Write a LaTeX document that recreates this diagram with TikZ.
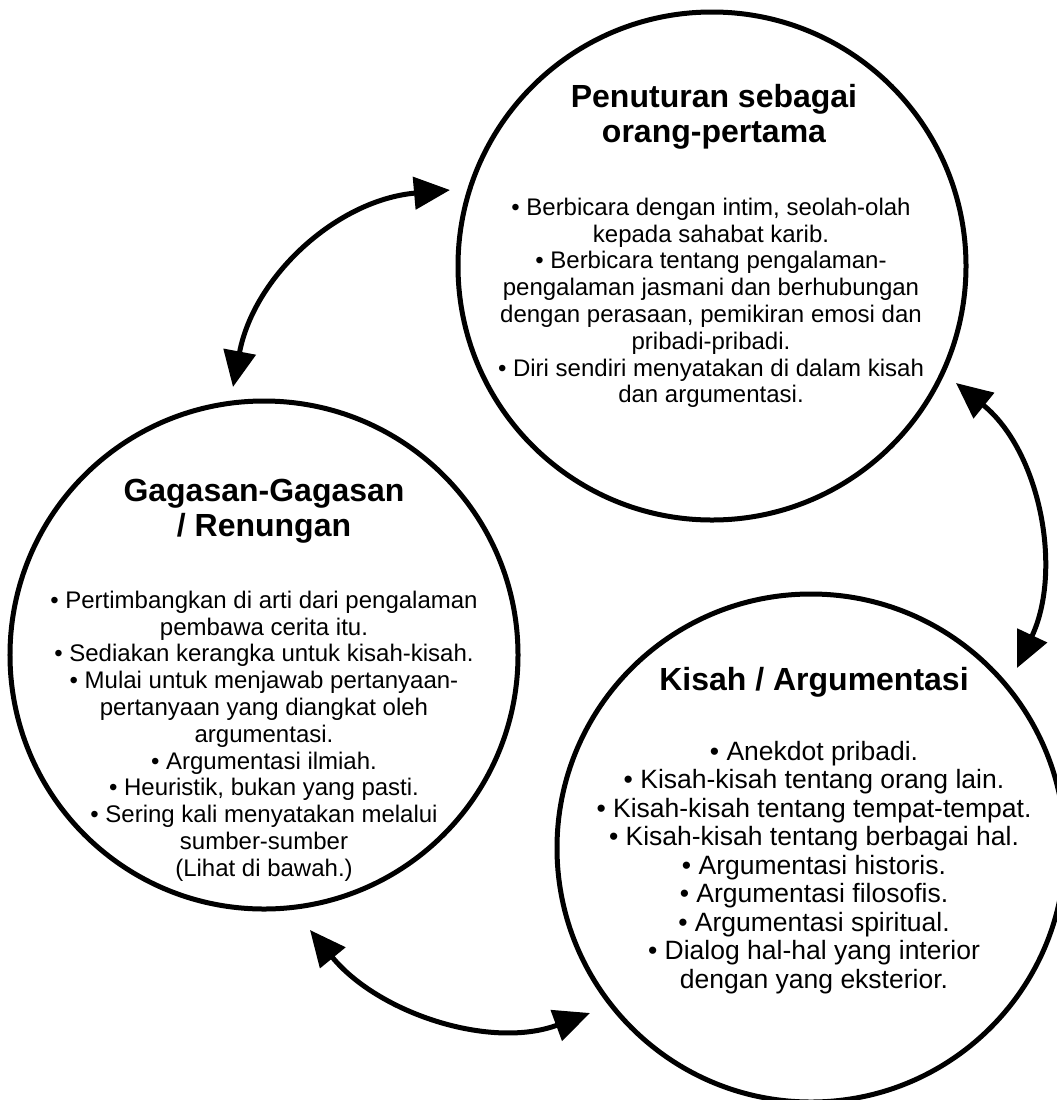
\documentclass[tikz,border=0pt]{standalone}
\usepackage{fontspec}
\setmainfont{Liberation Sans}
\usetikzlibrary{arrows.meta}
\begin{document}
\begin{tikzpicture}[x=1bp,y=-1bp,
  ring/.style={circle, draw, line width=5bp, minimum size=508bp, inner sep=0pt},
  ttl/.style={font=\bfseries\fontsize{32bp}{35bp}\selectfont, align=center, anchor=north, inner sep=0pt},
  body/.style={font=\fontsize{24bp}{26.8bp}\selectfont, align=center, anchor=north, inner sep=0pt},
  bodyb/.style={font=\fontsize{26.5bp}{28.5bp}\selectfont, align=center, anchor=north, inner sep=0pt},
  link/.style={line width=5bp, {Triangle[length=36bp,width=32bp]}-{Triangle[length=36bp,width=32bp]}}
]
\useasboundingbox (0,0) rectangle (1057,1100);
\fill[white] (0,0) rectangle (1057,1100);

% circles
\node[ring] (T) at (712,266) {};
\node[ring] (L) at (264,655) {};
\node[ring] (B) at (811,848) {};

% top circle
\node[ttl] (Tt) at (714,81) {\rule{0pt}{26bp}Penuturan sebagai\\orang-pertama};
\node[body] (Tb) at (711,195) {\rule{0pt}{20bp}• Berbicara dengan intim, seolah-olah\\
kepada sahabat karib.\\
• Berbicara tentang pengalaman-\\
pengalaman jasmani dan berhubungan\\
dengan perasaan, pemikiran emosi dan\\
pribadi-pribadi.\\
• Diri sendiri menyatakan di dalam kisah\\
dan argumentasi.};

% left circle
\node[ttl] (Lt) at (264,475) {\rule{0pt}{26bp}Gagasan-Gagasan\\/ Renungan};
\node[body] (Lb) at (264,588) {\rule{0pt}{20bp}• Pertimbangkan di arti dari pengalaman\\
pembawa cerita itu.\\
• Sediakan kerangka untuk kisah-kisah.\\
• Mulai untuk menjawab pertanyaan-\\
pertanyaan yang diangkat oleh\\
argumentasi.\\
• Argumentasi ilmiah.\\
• Heuristik, bukan yang pasti.\\
• Sering kali menyatakan melalui\\
sumber-sumber\\
(Lihat di bawah.)};

% bottom circle
\node[ttl] (Bt) at (814,664) {\rule{0pt}{26bp}Kisah / Argumentasi};
\node[bodyb] (Bb) at (814,740) {\rule{0pt}{20bp}• Anekdot pribadi.\\
• Kisah-kisah tentang orang lain.\\
• Kisah-kisah tentang tempat-tempat.\\
• Kisah-kisah tentang berbagai hal.\\
• Argumentasi historis.\\
• Argumentasi filosofis.\\
• Argumentasi spiritual.\\
• Dialog hal-hal yang interior\\
dengan yang eksterior.};

% connector ends
\coordinate (a1s) at (233,387);
\coordinate (a1e) at (450,190);
\coordinate (a2s) at (956,383);
\coordinate (a2e) at (1017,668);
\coordinate (a3s) at (310,930);
\coordinate (a3e) at (590,1013);

\draw[link] (a1s) .. controls (254,276) and (337,200) .. (a1e);
\draw[link] (a2s) .. controls (1040,451) and (1063,570) .. (a2e);
\draw[link] (a3s) .. controls (378,1013) and (490,1050) .. (a3e);
\end{tikzpicture}
\end{document}
